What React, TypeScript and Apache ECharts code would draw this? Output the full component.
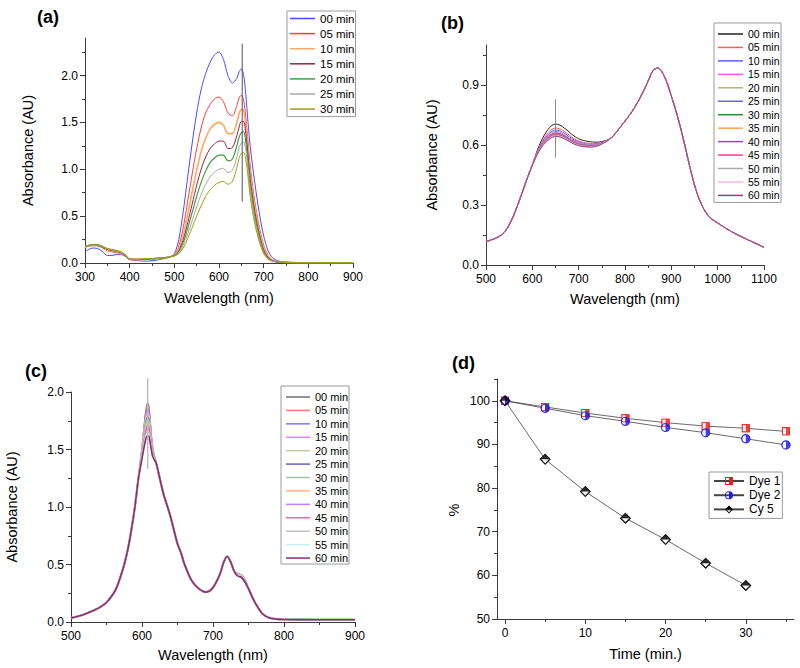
import React, { useEffect, useRef } from "react";
import * as echarts from "echarts";

const FONT = "'Liberation Sans', Arial, Helvetica, sans-serif";
const AXIS = "#3a3a3a";

// ---------------- (a) ----------------
const wlA = [300, 310, 320, 330, 340, 350, 360, 370, 380, 390, 400, 420, 440, 460, 480, 490,
  500, 510, 520, 530, 540, 550, 560, 570, 580, 590, 600, 610, 620, 630, 640, 645, 650, 655, 660, 665, 670, 680, 690,
  700, 710, 720, 730, 740, 750, 770, 800, 850, 900];
const timesA = ["00 min", "05 min", "10 min", "15 min", "20 min", "25 min", "30 min"];
const colorsA = ["#4a4aff", "#ff3c3c", "#ffa860", "#9c1c4c", "#3ca03c", "#a8a8a8", "#a0a010"];
const widthsA = [1, 1, 1.6, 1, 1.2, 1, 1];
const a00 = [0.12, 0.15, 0.16, 0.15, 0.12, 0.08, 0.08, 0.09, 0.09, 0.07, 0.035, 0.025, 0.02, 0.03, 0.05, 0.065,
  0.1, 0.25, 0.55, 0.92, 1.28, 1.6, 1.85, 2.02, 2.14, 2.22, 2.25, 2.17, 2.0, 1.92, 1.97, 2.04, 2.07, 2.01, 1.8, 1.5, 1.24, 0.86, 0.54,
  0.29, 0.13, 0.055, 0.025, 0.015, 0.01, 0.005, 0.003, 0.002, 0.001];
const a05 = [0.17, 0.18, 0.185, 0.18, 0.16, 0.13, 0.12, 0.11, 0.1, 0.075, 0.04, 0.035, 0.04, 0.045, 0.055, 0.065,
  0.085, 0.18, 0.38, 0.66, 0.95, 1.22, 1.44, 1.6, 1.69, 1.75, 1.77, 1.72, 1.6, 1.57, 1.68, 1.76, 1.79, 1.74, 1.55, 1.29, 1.03, 0.66, 0.39,
  0.19, 0.08, 0.033, 0.015, 0.01, 0.008, 0.004, 0.003, 0.002, 0.002];
const a10 = [0.17, 0.185, 0.19, 0.185, 0.165, 0.14, 0.13, 0.12, 0.105, 0.08, 0.04, 0.035, 0.04, 0.045, 0.055, 0.065,
  0.08, 0.15, 0.3, 0.52, 0.76, 0.99, 1.19, 1.33, 1.43, 1.48, 1.5, 1.47, 1.38, 1.38, 1.5, 1.59, 1.64, 1.63, 1.47, 1.22, 0.96, 0.61, 0.35,
  0.16, 0.07, 0.03, 0.013, 0.009, 0.007, 0.004, 0.003, 0.002, 0.002];
const a15 = [0.175, 0.185, 0.19, 0.185, 0.165, 0.145, 0.135, 0.125, 0.11, 0.08, 0.04, 0.038, 0.042, 0.047, 0.056, 0.066,
  0.08, 0.13, 0.25, 0.43, 0.63, 0.83, 1.0, 1.13, 1.22, 1.27, 1.3, 1.3, 1.22, 1.23, 1.36, 1.45, 1.51, 1.51, 1.38, 1.15, 0.89, 0.55, 0.31,
  0.14, 0.058, 0.025, 0.012, 0.008, 0.006, 0.004, 0.003, 0.002, 0.002];
const a20 = [0.18, 0.19, 0.2, 0.195, 0.175, 0.15, 0.14, 0.13, 0.115, 0.085, 0.04, 0.04, 0.045, 0.05, 0.058, 0.067,
  0.078, 0.12, 0.22, 0.37, 0.54, 0.71, 0.86, 0.98, 1.07, 1.12, 1.15, 1.15, 1.09, 1.11, 1.25, 1.34, 1.39, 1.4, 1.29, 1.07, 0.82, 0.5, 0.28,
  0.12, 0.05, 0.022, 0.011, 0.008, 0.006, 0.004, 0.003, 0.002, 0.002];
const a25 = [0.175, 0.185, 0.19, 0.185, 0.17, 0.15, 0.14, 0.13, 0.115, 0.085, 0.04, 0.04, 0.045, 0.05, 0.058, 0.067,
  0.075, 0.11, 0.19, 0.31, 0.45, 0.6, 0.73, 0.84, 0.92, 0.97, 1.0, 1.01, 0.965, 0.99, 1.13, 1.23, 1.28, 1.29, 1.2, 1.0, 0.76, 0.46, 0.25,
  0.11, 0.045, 0.02, 0.01, 0.007, 0.005, 0.004, 0.003, 0.002, 0.002];
const a30 = [0.18, 0.19, 0.195, 0.19, 0.175, 0.155, 0.145, 0.135, 0.12, 0.09, 0.045, 0.042, 0.047, 0.052, 0.06, 0.068,
  0.075, 0.1, 0.16, 0.26, 0.38, 0.5, 0.61, 0.71, 0.78, 0.83, 0.86, 0.87, 0.84, 0.87, 1.02, 1.12, 1.17, 1.18, 1.1, 0.92, 0.7, 0.42, 0.23,
  0.1, 0.04, 0.018, 0.01, 0.007, 0.005, 0.004, 0.003, 0.002, 0.002];
const rowsA = [a00, a05, a10, a15, a20, a25, a30];
const markA = { x: 652, y0: 0.655, y1: 2.34 };
const xMajA = [300, 400, 500, 600, 700, 800, 900];
const xMinA = [350, 450, 550, 650, 750, 850];
const yMajA = [0, 0.5, 1.0, 1.5, 2.0];
const yMinA = [0.25, 0.75, 1.25, 1.75, 2.25];

// ---------------- (b) ----------------
const wlB = [500, 510, 520, 530, 540, 550, 560, 570, 580, 590, 600, 610, 620, 630, 640, 650, 660, 670, 680, 690,
  700, 710, 720, 730, 740, 750, 760, 770, 780, 790, 800, 810, 820, 830, 840, 850, 860, 870, 880, 890,
  900, 910, 920, 930, 940, 950, 960, 970, 980, 990, 1000, 1010, 1020, 1030, 1040, 1050, 1060, 1070, 1080, 1090, 1100];
const timesB = ["00 min", "05 min", "10 min", "15 min", "20 min", "25 min", "30 min", "35 min", "40 min", "45 min", "50 min", "55 min", "60 min"];
const colorsB = ["#222222", "#ff5a5a", "#5a5aff", "#ff5aff", "#b4b478", "#6868d8", "#2a8a2a", "#ffa050", "#9040ff", "#ff3c8c", "#a8a8a8", "#ffb4e4", "#9a3a78"];
const bPre = [0.117, 0.124, 0.133, 0.145, 0.165, 0.2, 0.25, 0.31, 0.375, 0.44, 0.5];
const bPost = [0.66, 0.69, 0.72, 0.75, 0.785, 0.825, 0.87, 0.92, 0.97, 0.985, 0.965, 0.915, 0.845, 0.77, 0.685, 0.59,
  0.49, 0.4, 0.33, 0.28, 0.245, 0.225, 0.21, 0.195, 0.18, 0.167, 0.155, 0.143, 0.132, 0.121, 0.11, 0.1, 0.088];
const bMid00 = [0.569, 0.624, 0.665, 0.694, 0.705, 0.699, 0.683, 0.664, 0.645, 0.631, 0.623, 0.618, 0.615, 0.614, 0.617, 0.624, 0.635];
const bMid05 = [0.563, 0.613, 0.649, 0.675, 0.685, 0.68, 0.666, 0.649, 0.632, 0.62, 0.613, 0.609, 0.607, 0.608, 0.613, 0.622, 0.635];
const bMid10 = [0.56, 0.608, 0.641, 0.665, 0.675, 0.67, 0.657, 0.641, 0.626, 0.615, 0.608, 0.604, 0.603, 0.605, 0.611, 0.621, 0.635];
const bMid15 = [0.558, 0.604, 0.635, 0.659, 0.668, 0.664, 0.651, 0.636, 0.621, 0.611, 0.605, 0.601, 0.6, 0.603, 0.61, 0.621, 0.635];
const bMid20 = [0.556, 0.6, 0.63, 0.653, 0.662, 0.658, 0.646, 0.631, 0.617, 0.607, 0.602, 0.599, 0.598, 0.601, 0.609, 0.62, 0.635];
const bMid25 = [0.555, 0.599, 0.629, 0.651, 0.66, 0.656, 0.644, 0.63, 0.616, 0.606, 0.601, 0.598, 0.597, 0.6, 0.608, 0.62, 0.635];
const bMid30 = [0.554, 0.598, 0.626, 0.648, 0.657, 0.653, 0.642, 0.628, 0.614, 0.605, 0.599, 0.596, 0.596, 0.599, 0.608, 0.619, 0.635];
const bMid35 = [0.554, 0.597, 0.625, 0.646, 0.655, 0.651, 0.64, 0.626, 0.613, 0.604, 0.598, 0.595, 0.595, 0.599, 0.607, 0.619, 0.635];
const bMid40 = [0.553, 0.595, 0.622, 0.644, 0.652, 0.649, 0.638, 0.624, 0.611, 0.602, 0.597, 0.594, 0.594, 0.598, 0.607, 0.619, 0.635];
const bMid45 = [0.552, 0.594, 0.621, 0.642, 0.65, 0.647, 0.636, 0.622, 0.61, 0.601, 0.596, 0.593, 0.593, 0.597, 0.606, 0.619, 0.635];
const bMid50 = [0.552, 0.593, 0.619, 0.64, 0.648, 0.645, 0.634, 0.621, 0.608, 0.6, 0.594, 0.592, 0.592, 0.597, 0.606, 0.618, 0.635];
const bMid55 = [0.551, 0.592, 0.617, 0.638, 0.646, 0.643, 0.633, 0.619, 0.607, 0.599, 0.594, 0.591, 0.591, 0.596, 0.606, 0.618, 0.635];
const bMid60 = [0.55, 0.59, 0.615, 0.635, 0.643, 0.64, 0.63, 0.617, 0.605, 0.597, 0.592, 0.59, 0.59, 0.595, 0.605, 0.618, 0.635];
const midsB = [bMid00, bMid05, bMid10, bMid15, bMid20, bMid25, bMid30, bMid35, bMid40, bMid45, bMid50, bMid55, bMid60];
const markB = { x: 650, y0: 0.537, y1: 0.828 };
const xMajB = [500, 600, 700, 800, 900, 1000, 1100];
const xMinB = [550, 650, 750, 850, 950, 1050];
const yMajB = [0, 0.3, 0.6, 0.9];
const yMinB = [0.15, 0.45, 0.75, 1.05];

// ---------------- (c) ----------------
const wlC = [500, 510, 520, 530, 540, 550, 560, 565, 570, 575, 580, 585, 590, 595,
  600, 605, 608, 610, 615,
  620, 625, 630, 640, 650, 655, 660, 670, 680, 690, 700, 710, 715, 720, 725, 730,
  735, 740, 745,
  750, 755, 760, 770, 780, 790, 800, 850, 900];
const timesC = timesB;
const colorsC = ["#707070", "#ff7878", "#7878ff", "#ff78ff", "#c8c8a0", "#6464b4", "#a0c8a0", "#ffb478", "#c080ff", "#ff64a0", "#c0c0c0", "#c0f0f0", "#8e2c72"];
const widthsC = [1.3, 1.3, 1.3, 1.3, 2.2, 1.3, 2.2, 1.3, 1.3, 1.3, 1.3, 1.3, 1.6];
const cPre = [0.035, 0.05, 0.07, 0.095, 0.125, 0.17, 0.25, 0.31, 0.4, 0.5, 0.63, 0.8, 1.0, 1.25];
const cMid = [1.38, 1.25, 1.12, 0.92, 0.68, 0.6, 0.5, 0.36, 0.29, 0.26, 0.3, 0.42, 0.52, 0.57, 0.52, 0.44];
const cPost = [0.29, 0.22, 0.16, 0.07, 0.035, 0.025, 0.022, 0.02, 0.02];
const cPeaks = [
  [1.52, 1.82, 1.91, 1.86, 1.52],
  [1.51, 1.8, 1.89, 1.84, 1.51],
  [1.5, 1.78, 1.86, 1.82, 1.5],
  [1.49, 1.76, 1.83, 1.8, 1.49],
  [1.48, 1.74, 1.8, 1.77, 1.48],
  [1.47, 1.72, 1.78, 1.75, 1.48],
  [1.47, 1.7, 1.76, 1.73, 1.47],
  [1.46, 1.68, 1.73, 1.71, 1.47],
  [1.45, 1.66, 1.71, 1.69, 1.46],
  [1.45, 1.64, 1.69, 1.67, 1.46],
  [1.44, 1.62, 1.66, 1.65, 1.45],
  [1.43, 1.6, 1.64, 1.63, 1.45],
  [1.42, 1.58, 1.62, 1.61, 1.44],
];
const cShoulders = [
  [0.42, 0.41, 0.37], [0.42, 0.41, 0.37], [0.41, 0.4, 0.36], [0.41, 0.4, 0.36], [0.41, 0.4, 0.36],
  [0.4, 0.385, 0.345], [0.41, 0.4, 0.36], [0.41, 0.4, 0.36], [0.4, 0.39, 0.35], [0.4, 0.39, 0.35],
  [0.41, 0.4, 0.36], [0.41, 0.4, 0.36], [0.4, 0.39, 0.35],
];
const markC = { x: 608, y0: 1.33, y1: 2.12 };
const xMajC = [500, 600, 700, 800, 900];
const xMinC = [550, 650, 750, 850];
const yMajC = [0, 0.5, 1.0, 1.5, 2.0];
const yMinC = [0.25, 0.75, 1.25, 1.75];

// ---------------- (d) ----------------
const timeD = [0, 5, 10, 15, 20, 25, 30, 35];
const dye1 = [100, 98.6, 97.2, 96.0, 95.0, 94.2, 93.7, 93.0];
const dye2 = [100, 98.3, 96.6, 95.3, 93.9, 92.7, 91.3, 89.9];
const cy5 = [100, 86.6, 79.2, 73.1, 68.2, 62.8, 57.7];
const namesD = ["Dye 1", "Dye 2", "Cy 5"];
const colorsD = ["#ee1c1c", "#1c1cee", "#000000"];
const xMajD = [0, 10, 20, 30];
const xMinD = [5, 15, 25, 35];
const yMajD = [50, 60, 70, 80, 90, 100];
const yMinD = [55, 65, 75, 85, 95, 105];

const SYM_SQ = "path://M0,0L10,0L10,10L0,10Z M1.2,1.2L1.2,8.8L8.8,8.8L8.8,1.2Z M5,0L10,0L10,10L5,10Z";
const SYM_CI = "path://M5,0A5,5,0,1,1,5,10A5,5,0,1,1,5,0Z M5,1.1A3.9,3.9,0,1,0,5,8.9A3.9,3.9,0,1,0,5,1.1Z M5,0A5,5,0,0,1,5,10Z";
const SYM_DI = "path://M5,0L10,5L5,10L0,5Z M5,1.5L1.5,5L5,8.5L8.5,5Z M5,0L10,5L0,5Z";

const fmt1 = (v: number) => v.toFixed(1);
const fmt0 = (v: number) => String(v);

function axisPair(dim: "x" | "y", gridIndex: number, min: number, max: number, majors: number[], minors: number[],
  name: string, nameGap: number, fmt: (v: number) => string) {
  const position = dim === "x" ? "bottom" : "left";
  const main: any = {
    type: "value", gridIndex, min, max, position,
    name, nameLocation: "middle", nameGap,
    nameTextStyle: { fontFamily: FONT, fontSize: 14.5, color: "#000" },
    axisLine: { show: true, onZero: false, lineStyle: { color: AXIS, width: 1 } },
    axisTick: { show: true, inside: false, length: 5, customValues: majors, lineStyle: { color: AXIS, width: 1 } },
    axisLabel: { show: true, customValues: majors, formatter: fmt, margin: dim === "x" ? 8 : 7, fontFamily: FONT, fontSize: 12, color: "#000" },
    splitLine: { show: false },
    minorTick: { show: false },
  };
  const minor: any = {
    type: "value", gridIndex, min, max, position,
    axisLine: { show: false, onZero: false },
    axisTick: { show: true, inside: false, length: 3, customValues: minors, lineStyle: { color: AXIS, width: 1 } },
    axisLabel: { show: false },
    splitLine: { show: false },
  };
  return [main, minor];
}

function spectra(prefix: string, grid: number, wl: number[], rows: number[][], times: string[], colors: string[], widths: number[]) {
  return rows.map((vals, i) => ({
    type: "line",
    name: `${prefix}|${times[i]}`,
    xAxisIndex: 2 * grid, yAxisIndex: 2 * grid,
    data: wl.map((w, j) => [w, vals[j]]),
    symbol: "none", showSymbol: false, smooth: 0.3,
    lineStyle: { color: colors[i], width: widths[i] },
    itemStyle: { color: colors[i] },
    silent: true, z: 2,
  }));
}

function marker(grid: number, m: { x: number; y0: number; y1: number }, color: string, width: number) {
  return {
    type: "line", name: `mark${grid}`, xAxisIndex: 2 * grid, yAxisIndex: 2 * grid,
    data: [[m.x, m.y0], [m.x, m.y1]], symbol: "none", showSymbol: false,
    lineStyle: { color, width }, itemStyle: { color }, silent: true, clip: false, z: 5,
  };
}

function specLegend(prefix: string, times: string[], left: number, top: number, padding: number[], itemGap: number, itemWidth: number, fontSize: number) {
  return {
    orient: "vertical", left, top, padding, itemGap, itemWidth, itemHeight: 1.5, icon: "rect",
    borderColor: "#9a9a9a", borderWidth: 1, selectedMode: false,
    textStyle: { fontFamily: FONT, fontSize, color: "#000" },
    formatter: (n: string) => n.split("|")[1],
    data: times.map((t) => `${prefix}|${t}`),
  };
}

function dyeSeries(i: number, vals: number[], symbol: string, under: string, size: number) {
  const data = vals.map((v, k) => [timeD[k], v]);
  const c = colorsD[i];
  return [
    {
      type: "line", name: namesD[i], xAxisIndex: 6, yAxisIndex: 6, data,
      symbol, symbolSize: size, showSymbol: true,
      lineStyle: { color: "#444", width: 0.8 }, itemStyle: { color: c, borderWidth: 0 }, silent: true, z: 2,
    },
    {
      type: "scatter", name: `under${i}`, xAxisIndex: 6, yAxisIndex: 6, data,
      symbol: under, symbolSize: size - 1.2, itemStyle: { color: "#ffffff", borderWidth: 0 }, silent: true, z: 3,
    },
    {
      type: "scatter", name: `over${i}`, xAxisIndex: 6, yAxisIndex: 6, data,
      symbol, symbolSize: size, itemStyle: { color: c, borderWidth: 0 }, silent: true, z: 4,
    },
  ];
}

function panelLabel(text: string, x: number, y: number) {
  return {
    type: "text", x, y,
    style: { text, font: `bold 18px ${FONT}`, fill: "#000", verticalAlign: "middle", align: "left" },
  };
}

export default function App() {
  const ref = useRef<HTMLDivElement>(null);
  useEffect(() => {
    if (!ref.current) return;
    const chart = echarts.init(ref.current, undefined, { renderer: "svg" });
    const rowsB = midsB.map((m) => [...bPre, ...m, ...bPost]);
    const rowsC = cPeaks.map((p, i) => [...cPre, ...p, ...cMid, ...cShoulders[i], ...cPost]);
    const option: any = {
      animation: false,
      backgroundColor: "#ffffff",
      grid: [
        { left: 85, top: 38, width: 268, height: 225 },
        { left: 486, top: 45, width: 278, height: 220 },
        { left: 71, top: 392, width: 284, height: 230 },
        { left: 497, top: 379, width: 297, height: 240 },
      ],
      xAxis: [
        ...axisPair("x", 0, 300, 900, xMajA, xMinA, "Wavelength (nm)", 27, fmt0),
        ...axisPair("x", 1, 500, 1100, xMajB, xMinB, "Wavelength (nm)", 26, fmt0),
        ...axisPair("x", 2, 500, 900, xMajC, xMinC, "Wavelength (nm)", 25, fmt0),
        ...axisPair("x", 3, -1, 36, xMajD, xMinD, "Time (min.)", 27, fmt0),
      ],
      yAxis: [
        ...axisPair("y", 0, 0, 2.4, yMajA, yMinA, "Absorbance (AU)", 50, fmt1),
        ...axisPair("y", 1, 0, 1.1, yMajB, yMinB, "Absorbance (AU)", 47, fmt1),
        ...axisPair("y", 2, 0, 2.0, yMajC, yMinC, "Absorbance (AU)", 52, fmt1),
        ...axisPair("y", 3, 50, 105, yMajD, yMinD, "", 35, fmt0),
      ],
      legend: [
        specLegend("a", timesA, 287, 11, [1.5, 1, 1.5, 3], 3.1, 25, 11.5),
        specLegend("b", timesB, 714, 23, [5.5, 1.5, 1.5, 4], 2.45, 25, 10.5),
        specLegend("c", timesC, 281, 386, [5.5, 1, 0.5, 5], 2.42, 24, 11),
        {
          orient: "vertical", left: 709, top: 472, padding: [3, 2, 3, 4], itemGap: 2.2, itemWidth: 30, itemHeight: 10,
          borderColor: "#9a9a9a", borderWidth: 1, selectedMode: false,
          textStyle: { fontFamily: FONT, fontSize: 12, color: "#000" },
          data: namesD,
        },
      ],
      graphic: [
        panelLabel("(a)", 37, 16.7),
        panelLabel("(b)", 441, 23.3),
        panelLabel("(c)", 25, 370.5),
        panelLabel("(d)", 452, 363.3),
        {
          type: "text", x: 454, y: 510, rotation: Math.PI / 2,
          style: { text: "%", font: `14.5px ${FONT}`, fill: "#000", align: "center", verticalAlign: "middle" },
        },
      ],
      series: [
        ...spectra("a", 0, wlA, rowsA, timesA, colorsA, widthsA),
        marker(0, markA, "#555555", 1),
        ...spectra("b", 1, wlB, rowsB, timesB, colorsB, timesB.map(() => 1)),
        marker(1, markB, "#8a8a8a", 1),
        ...spectra("c", 2, wlC, rowsC, timesC, colorsC, widthsC),
        marker(2, markC, "#bdbdbd", 1.5),
        ...dyeSeries(0, dye1, SYM_SQ, "rect", 8),
        ...dyeSeries(1, dye2, SYM_CI, "circle", 9),
        ...dyeSeries(2, cy5, SYM_DI, "diamond", 11),
      ],
    };
    chart.setOption(option);
    return () => chart.dispose();
  }, []);
  return <div ref={ref} style={{ position: "absolute", left: 0, top: 0, width: 800, height: 668 }} />;
}
